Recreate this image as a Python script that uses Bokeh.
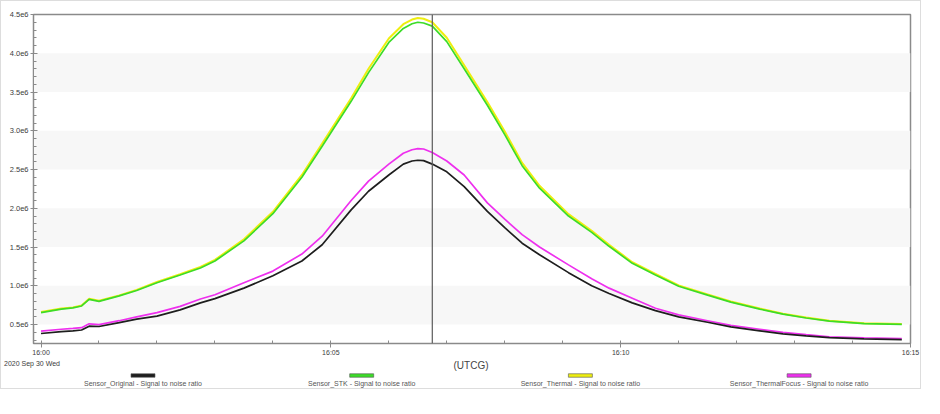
from bokeh.plotting import figure
from bokeh.models import Range1d, FixedTicker, Span, BoxAnnotation
from bokeh.layouts import column
from bokeh.embed import file_html
from bokeh.resources import INLINE
from bokeh.core.properties import value

# ---- data (minutes after 16:00 UTCG, values in units of 1e6) ----
minutes = [0, 0.35, 0.55, 0.7, 0.83, 1.0, 1.35, 1.65, 2.0, 2.4, 2.75, 3.0, 3.5, 4.0, 4.5, 4.85,
           5.35, 5.65, 6.0, 6.25, 6.4, 6.5, 6.6, 6.75, 7.0, 7.3, 7.7, 8.0, 8.3, 8.6, 9.1, 9.5,
           9.8, 10.2, 10.6, 11.0, 11.5, 11.9, 12.4, 12.8, 13.2, 13.6, 14.2, 14.85]

original_m = [0.385, 0.41, 0.42, 0.43, 0.48, 0.475, 0.525, 0.57, 0.61, 0.69, 0.78, 0.835, 0.97, 1.13,
              1.32, 1.53, 1.98, 2.22, 2.43, 2.57, 2.61, 2.62, 2.615, 2.57, 2.47, 2.28, 1.96, 1.75,
              1.55, 1.40, 1.17, 1.00, 0.90, 0.78, 0.68, 0.60, 0.53, 0.47, 0.42, 0.38, 0.355, 0.332,
              0.315, 0.307]

stk_m = [0.655, 0.70, 0.715, 0.74, 0.825, 0.80, 0.87, 0.94, 1.04, 1.14, 1.23, 1.32, 1.58, 1.93,
         2.40, 2.80, 3.38, 3.75, 4.14, 4.32, 4.38, 4.40, 4.39, 4.35, 4.15, 3.80, 3.33, 2.95, 2.55,
         2.26, 1.90, 1.69, 1.51, 1.29, 1.14, 0.995, 0.88, 0.79, 0.70, 0.635, 0.585, 0.545, 0.513,
         0.503]

thermal_m = [0.662, 0.707, 0.722, 0.747, 0.832, 0.807, 0.877, 0.948, 1.05, 1.15, 1.245, 1.335, 1.60,
             1.955, 2.43, 2.835, 3.42, 3.80, 4.19, 4.375, 4.435, 4.455, 4.445, 4.40, 4.20, 3.845,
             3.37, 2.99, 2.585, 2.29, 1.925, 1.71, 1.53, 1.305, 1.155, 1.005, 0.89, 0.798, 0.707,
             0.641, 0.59, 0.55, 0.517, 0.507]

thermal_focus_m = [0.415, 0.44, 0.45, 0.46, 0.51, 0.50, 0.55, 0.60, 0.655, 0.735, 0.83, 0.885, 1.04,
                   1.19, 1.41, 1.64, 2.10, 2.35, 2.57, 2.71, 2.755, 2.77, 2.765, 2.72, 2.61, 2.43,
                   2.07, 1.86, 1.66, 1.50, 1.27, 1.09, 0.97, 0.84, 0.71, 0.625, 0.55, 0.49, 0.44,
                   0.40, 0.37, 0.343, 0.33, 0.32]

series_names = ["Sensor_Original - Signal to noise ratio",
                "Sensor_STK - Signal to noise ratio",
                "Sensor_Thermal - Signal to noise ratio",
                "Sensor_ThermalFocus - Signal to noise ratio"]
series_colors = ["#1e1e1e", "#3cdc28", "#eeee10", "#ee30ee"]

x_tick_values = [0, 5, 10, 15]
x_tick_labels = ["16:00", "16:05", "16:10", "16:15"]
y_tick_values = [500000, 1000000, 1500000, 2000000, 2500000, 3000000, 3500000, 4000000, 4500000]
y_tick_labels = ["0.5e6", "1.0e6", "1.5e6", "2.0e6", "2.5e6", "3.0e6", "3.5e6", "4.0e6", "4.5e6"]
band_bottoms = [500000, 1500000, 2500000, 3500000]
band_height = 500000
date_text = "2020 Sep 30 Wed"
axis_text = "(UTCG)"
cursor_minute = 6.75

SCALE = 1e6
original = [v * SCALE for v in original_m]
stk = [v * SCALE for v in stk_m]
thermal = [v * SCALE for v in thermal_m]
thermal_focus = [v * SCALE for v in thermal_focus_m]

FONT = "Liberation Sans"
W = 919

p = figure(width=W, height=357, x_range=Range1d(-0.13, 15), y_range=Range1d(256000, 4500000),
           output_backend="svg", toolbar_location=None,
           min_border_left=32, min_border_right=10, min_border_top=13, min_border_bottom=14)
p.xgrid.visible = False
p.ygrid.visible = False
p.outline_line_color = "#8a8a8a"
p.outline_line_width = 1.5
p.background_fill_color = "white"
p.border_fill_color = "white"

for b in band_bottoms:
    p.add_layout(BoxAnnotation(bottom=b, top=b + band_height, fill_color="#f7f7f7", fill_alpha=1.0,
                               line_alpha=0, level="underlay"))

# axes
p.xaxis.ticker = FixedTicker(ticks=x_tick_values, minor_ticks=list(range(0, 16)))
p.xaxis.major_label_overrides = dict(zip(x_tick_values, x_tick_labels))
p.yaxis.ticker = FixedTicker(ticks=y_tick_values, minor_ticks=list(range(300000, 4500001, 100000)))
p.yaxis.major_label_overrides = dict(zip(y_tick_values, y_tick_labels))

for ax in (p.xaxis, p.yaxis):
    ax.axis_line_color = "#8a8a8a"
    ax.major_tick_line_color = "#8a8a8a"
    ax.minor_tick_line_color = "#8a8a8a"
    ax.major_label_text_font = FONT
    ax.major_label_text_color = "#3c3c3c"

p.yaxis.major_label_standoff = 2
p.yaxis.major_tick_out = 3
p.yaxis.major_tick_in = 4
p.yaxis.minor_tick_in = 3
p.yaxis.minor_tick_out = 0
p.yaxis.major_label_text_font_size = "7.5px"

p.xaxis.major_label_standoff = 1
p.xaxis.major_tick_out = 4
p.xaxis.major_tick_in = 2
p.xaxis.minor_tick_in = 3
p.xaxis.minor_tick_out = 0
p.xaxis.major_label_text_font_size = "7px"

# series
p.line(minutes, thermal, line_color=series_colors[2], line_width=2.0)
p.line(minutes, stk, line_color=series_colors[1], line_width=1.7)
p.line(minutes, thermal_focus, line_color=series_colors[3], line_width=1.7)
p.line(minutes, original, line_color=series_colors[0], line_width=1.7)

p.add_layout(Span(location=cursor_minute, dimension="height", line_color="#5a5a5a", line_width=1.2))

# strip under the axis: date, axis title and legend (its own frame, not aligned)
LH = 30
leg = figure(width=W, height=LH, x_range=Range1d(0, W), y_range=Range1d(LH, 0),
             x_axis_type=None, y_axis_type=None, output_backend="svg", toolbar_location=None,
             min_border=0)
leg.frame_align = False
leg.outline_line_color = None
leg.xgrid.visible = False
leg.ygrid.visible = False
leg.background_fill_color = "white"
leg.border_fill_color = "white"

leg.text(x=[2.5], y=[4.5], text=[date_text], text_align="left", text_baseline="middle",
         text_font_size="7px", text_color="#3c3c3c", text_font=value(FONT))
leg.text(x=[469.5], y=[6.5], text=[axis_text], text_align="center", text_baseline="middle",
         text_font_size="10px", text_color="#444444", text_font=value(FONT))

first_center, spacing = 141.5, 218.7
centers = [first_center + i * spacing for i in range(len(series_names))]
leg.rect(x=centers, y=17, width=24, height=3.5, fill_color=series_colors, line_color="#555555",
         line_width=0.6)
leg.text(x=centers, y=25, text=series_names, text_align="center", text_baseline="middle",
         text_font_size="7px", text_color="#555555", text_font=value(FONT))

layout = column(p, leg, spacing=0, styles={"border": "1px solid #dddddd", "background-color": "white"})

open("out.html", "w").write(file_html(layout, INLINE))
